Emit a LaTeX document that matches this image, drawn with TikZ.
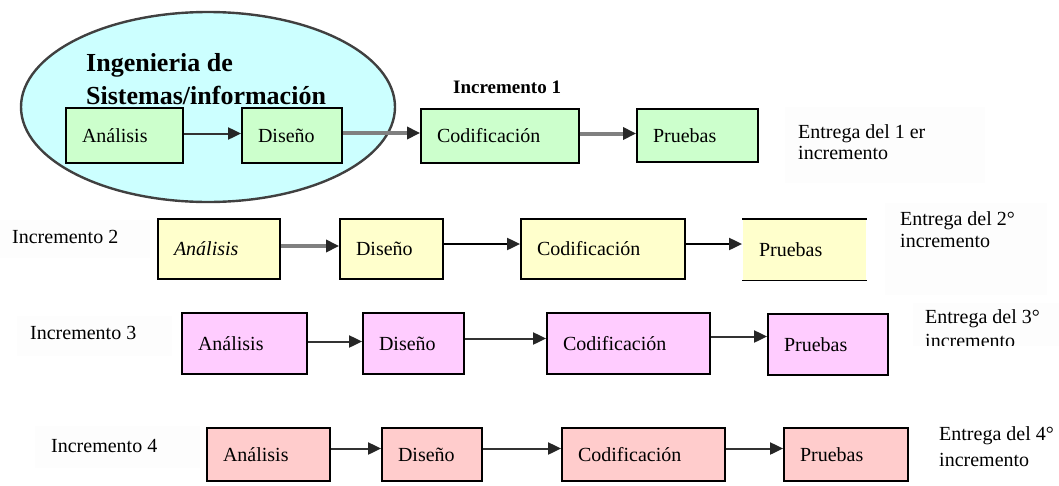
\documentclass[tikz,border=0pt]{standalone}
\usepackage{fontspec}
\setmainfont{Liberation Serif}
\usetikzlibrary{arrows.meta}

\definecolor{boxgreen}{HTML}{CCFFCC}
\definecolor{boxcyan}{HTML}{CCFFFF}
\definecolor{boxyellow}{HTML}{FFFFCC}
\definecolor{boxpink}{HTML}{FFCCFF}
\definecolor{boxrose}{HTML}{FFCCCC}
\definecolor{linedark}{HTML}{333333}
\definecolor{linegray}{HTML}{808080}
\definecolor{labelbg}{HTML}{FDFDFD}

\begin{document}
\begin{tikzpicture}[x=1pt,y=-1pt,
  stage/.style={draw=black, line width=1.8pt, inner xsep=16pt, inner ysep=0pt,
                align=left, font=\fontsize{20}{23}\selectfont},
  plain/.style={inner sep=0pt, font=\fontsize{20}{23}\selectfont},
  heading/.style={inner sep=0pt, font=\bfseries\fontsize{26}{30}\selectfont},
  flow/.style={draw=linedark, line width=2pt,
               -{Triangle[length=13pt,width=12pt,color=black!85]}},
  flowblack/.style={flow, draw=black},
  flowgray/.style={draw=linegray, line width=4pt,
                   -{Triangle[length=13pt,width=12pt,color=black!85]}},
]
\useasboundingbox (0,0) rectangle (1059,485);

% soft backgrounds behind the side labels
\fill[labelbg] (785,107) rectangle (985,183);
\fill[labelbg] (0,220) rectangle (150,258);
\fill[labelbg] (885,203) rectangle (1047,295);
\fill[labelbg] (17,316) rectangle (172,356);
\fill[labelbg] (913,303) rectangle (1059,346);
\fill[labelbg] (35,426) rectangle (200,468);

% systems engineering ellipse
\draw[fill=boxcyan, draw=black!75, line width=2.4pt]
  (208,107) ellipse [x radius=187, y radius=95];
\node[heading, anchor=base west] (eng1) at (86,71) {Ingenieria de};
\node[heading, anchor=base west] (eng2) at (86,104) {Sistemas/información};

% increment 1
\node[plain, font=\bfseries\fontsize{19}{22}\selectfont, anchor=base west] (inc1) at (453,93) {Incremento 1};
\node[stage, fill=boxgreen, text width=85pt, minimum height=55pt] (a1) at (124.5,135.5) {Análisis};
\node[stage, fill=boxgreen, text width=68pt, minimum height=55pt] (d1) at (292,135.5) {Diseño};
\node[stage, fill=boxgreen, text width=126pt, minimum height=54pt] (c1) at (500,136) {Codificación};
\node[stage, fill=boxgreen, text width=89pt, minimum height=53pt] (p1) at (697.5,135.5) {Pruebas};
\draw[flow] ([yshift=2pt]a1.east) -- ([yshift=2pt]d1.west);
\draw[flowgray] ([yshift=2.5pt]d1.east) -- ([yshift=2.5pt]d1.east -| c1.west);
\draw[flowgray] ([yshift=2.5pt]c1.east) -- ([yshift=2.5pt]c1.east -| p1.west);
\node[plain, anchor=base west] (e1a) at (798,138) {Entrega del 1 er};
\node[plain, anchor=base west] (e1b) at (798,159) {incremento};

% increment 2
\node[plain, anchor=base west] (inc2) at (12,243) {Incremento 2};
\node[stage, fill=boxyellow, text width=90pt, minimum height=60pt,
      font=\itshape\fontsize{20}{23}\selectfont] (a2) at (219,249) {Análisis};
\node[stage, fill=boxyellow, text width=71pt, minimum height=60pt] (d2) at (391.5,249) {Diseño};
\node[stage, fill=boxyellow, text width=132pt, minimum height=60pt] (c2) at (603,249) {Codificación};
\node[stage, draw=none, fill=boxyellow, text width=91pt, minimum height=60pt] (p2) at (804.5,249.5) {Pruebas};
\draw[line width=1.8pt] (p2.north west) -- (p2.north east)
                        (p2.south west) -- (p2.south east);
\draw[flowgray] ([yshift=3pt]a2.east) -- ([yshift=3pt]a2.east -| d2.west);
\draw[flowblack] ([yshift=5pt]d2.east) -- ([yshift=5pt]d2.east -| c2.west);
\draw[flowblack] ([yshift=5pt]c2.east) -- ([yshift=5pt]c2.east -| p2.west);
\node[plain, anchor=base west] (e2a) at (900,225) {Entrega del 2°};
\node[plain, anchor=base west] (e2b) at (900,247) {incremento};

% increment 3
\node[plain, anchor=base west] (inc3) at (30,339) {Incremento 3};
\node[stage, fill=boxpink, text width=93pt, minimum height=61pt] (a3) at (244.5,343.5) {Análisis};
\node[stage, fill=boxpink, text width=69pt, minimum height=61pt] (d3) at (413.5,343.5) {Diseño};
\node[stage, fill=boxpink, text width=131pt, minimum height=61pt] (c3) at (628.5,343.5) {Codificación};
\node[stage, fill=boxpink, text width=88pt, minimum height=61pt] (p3) at (828,344.5) {Pruebas};
\draw[flow] ([yshift=2pt]a3.east) -- ([yshift=2pt]a3.east -| d3.west);
\draw[flow] ([yshift=5pt]d3.east) -- ([yshift=5pt]d3.east -| c3.west);
\draw[flow] ([yshift=7pt]c3.east) -- ([yshift=7pt]c3.east -| p3.west);
\node[plain, anchor=base west] (e3a) at (925,323) {Entrega del 3°};
\begin{scope}
  \clip (913,330) rectangle (1059,345);
  \node[plain, anchor=base west] (e3b) at (925,347) {incremento};
\end{scope}

% increment 4
\node[plain, anchor=base west] (inc4) at (51,452) {Incremento 4};
\node[stage, fill=boxrose, text width=91pt, minimum height=53pt] (a4) at (268.5,454.5) {Análisis};
\node[stage, fill=boxrose, text width=68pt, minimum height=53pt] (d4) at (432,454.5) {Diseño};
\node[stage, fill=boxrose, text width=131pt, minimum height=53pt] (c4) at (643.5,454.5) {Codificación};
\node[stage, fill=boxrose, text width=92pt, minimum height=53pt] (p4) at (846,454.5) {Pruebas};
\draw[flow] ([yshift=6pt]a4.east) -- ([yshift=6pt]a4.east -| d4.west);
\draw[flow] ([yshift=6pt]d4.east) -- ([yshift=6pt]d4.east -| c4.west);
\draw[flow] ([yshift=6pt]c4.east) -- ([yshift=6pt]c4.east -| p4.west);
\node[plain, anchor=base west] (e4a) at (939,440) {Entrega del 4°};
\node[plain, anchor=base west] (e4b) at (939,466) {incremento};
\end{tikzpicture}
\end{document}
